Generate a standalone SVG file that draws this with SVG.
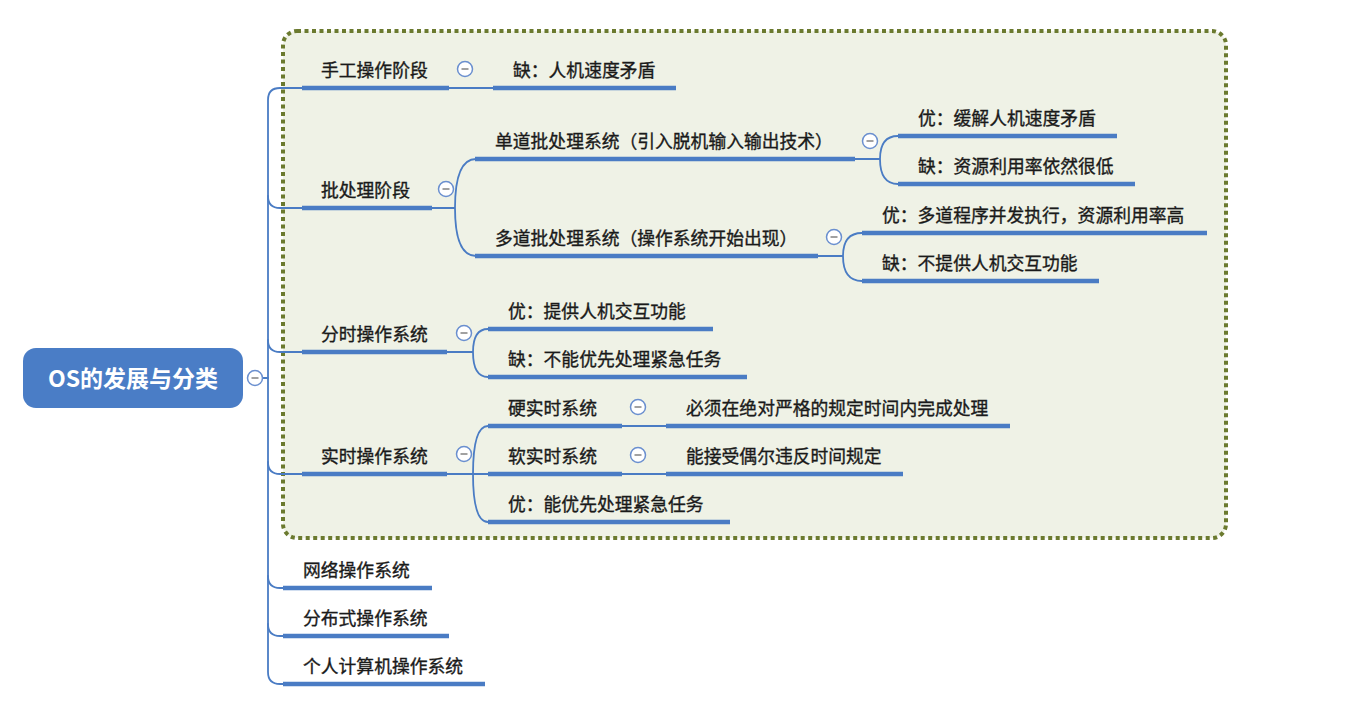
<svg xmlns="http://www.w3.org/2000/svg" width="1368" height="720" viewBox="0 0 1368 720">
<defs>
<style>
.bg{fill:#ffffff}
.box{fill:#eff2e6;stroke:#6b7a2f;stroke-width:4;stroke-dasharray:4 3.5}
.thin{fill:none;stroke:#4a7cc4;stroke-width:1.8;stroke-linecap:round}
.ul{fill:none;stroke:#4a7cc4;stroke-width:4.5;stroke-linecap:butt}
.t{font-family:"Noto Sans CJK SC","Noto Sans",sans-serif;font-size:17.8px;fill:#1a1a1a;stroke:#1a1a1a;stroke-width:0.35}
.root{fill:#4a7dc6}
.rt{font-family:"Noto Sans CJK SC","Noto Sans",sans-serif;font-size:23px;font-weight:bold;fill:#ffffff}
.cc{fill:#ffffff;stroke:#6a8fcf;stroke-width:1.5}
.cm{stroke:#8a8a8a;stroke-width:1.6}
</style>
</defs>
<rect class="bg" x="0" y="0" width="1368" height="720"/>
<rect class="box" x="283" y="31" width="943" height="507" rx="14"/>

<g id="connectors">
<path class="thin" d="M262,378 H268"/>
<path class="thin" d="M302,88 H280 Q268,88 268,100 V672 Q268,684 280,684 H284"/>
<path class="thin" d="M268,196 Q268,208 280,208 H302"/>
<path class="thin" d="M268,340 Q268,352 280,352 H302"/>
<path class="thin" d="M268,462 Q268,474 280,474 H302"/>
<path class="thin" d="M268,576 Q268,588 280,588 H284"/>
<path class="thin" d="M268,624 Q268,636 280,636 H284"/>
<path class="thin" d="M449,88 H493"/>
<path class="thin" d="M432,208 H455 M455,208 Q455,159 476,159 M455,208 Q455,256 476,256"/>
<path class="thin" d="M855,159 H880 M880,159 Q880,136 898,136 M880,159 Q880,184 898,184"/>
<path class="thin" d="M818,256 H843 M843,256 Q843,233 862,233 M843,256 Q843,281 862,281"/>
<path class="thin" d="M447,352 H473 M473,352 Q473,329 488,329 M473,352 Q473,377 488,377"/>
<path class="thin" d="M447,474 H488 M473,474 Q473,426 488,426 M473,474 Q473,522 488,522"/>
<path class="thin" d="M622,426 H666"/>
<path class="thin" d="M622,474 H666"/>
</g>

<g id="root">
<rect class="root" x="23" y="348" width="220" height="60" rx="13"/>
<text class="rt" x="133" y="387" text-anchor="middle">OS的发展与分类</text>
<circle class="cc" cx="255" cy="378" r="7.5"/><line class="cm" x1="251.5" y1="378" x2="258.5" y2="378"/>
</g>

<g id="n-shougong">
<line class="ul" x1="302" y1="88" x2="449" y2="88"/>
<text class="t" x="321" y="77">手工操作阶段</text>
<circle class="cc" cx="465" cy="69" r="7.5"/><line class="cm" x1="461.5" y1="69" x2="468.5" y2="69"/>
</g>
<g id="n-shougong-que">
<line class="ul" x1="493" y1="88" x2="676" y2="88"/>
<text class="t" x="513" y="77">缺：人机速度矛盾</text>
</g>

<g id="n-pichuli">
<line class="ul" x1="302" y1="208" x2="432" y2="208"/>
<text class="t" x="321" y="197">批处理阶段</text>
<circle class="cc" cx="446" cy="189" r="7.5"/><line class="cm" x1="442.5" y1="189" x2="449.5" y2="189"/>
</g>
<g id="n-dandao">
<line class="ul" x1="475" y1="159" x2="855" y2="159"/>
<text class="t" x="495" y="148">单道批处理系统（引入脱机输入输出技术）</text>
<circle class="cc" cx="870" cy="141" r="7.5"/><line class="cm" x1="866.5" y1="141" x2="873.5" y2="141"/>
</g>
<g id="n-dandao-you">
<line class="ul" x1="898" y1="136" x2="1117" y2="136"/>
<text class="t" x="918" y="125">优：缓解人机速度矛盾</text>
</g>
<g id="n-dandao-que">
<line class="ul" x1="898" y1="184" x2="1135" y2="184"/>
<text class="t" x="918" y="173">缺：资源利用率依然很低</text>
</g>
<g id="n-duodao">
<line class="ul" x1="475" y1="256" x2="818" y2="256"/>
<text class="t" x="495" y="245">多道批处理系统（操作系统开始出现）</text>
<circle class="cc" cx="834" cy="237" r="7.5"/><line class="cm" x1="830.5" y1="237" x2="837.5" y2="237"/>
</g>
<g id="n-duodao-you">
<line class="ul" x1="862" y1="233" x2="1207" y2="233"/>
<text class="t" x="882" y="222">优：多道程序并发执行，资源利用率高</text>
</g>
<g id="n-duodao-que">
<line class="ul" x1="862" y1="281" x2="1099" y2="281"/>
<text class="t" x="882" y="270">缺：不提供人机交互功能</text>
</g>

<g id="n-fenshi">
<line class="ul" x1="302" y1="352" x2="447" y2="352"/>
<text class="t" x="321" y="341">分时操作系统</text>
<circle class="cc" cx="464" cy="333" r="7.5"/><line class="cm" x1="460.5" y1="333" x2="467.5" y2="333"/>
</g>
<g id="n-fenshi-you">
<line class="ul" x1="488" y1="329" x2="713" y2="329"/>
<text class="t" x="508" y="318">优：提供人机交互功能</text>
</g>
<g id="n-fenshi-que">
<line class="ul" x1="488" y1="377" x2="747" y2="377"/>
<text class="t" x="508" y="366">缺：不能优先处理紧急任务</text>
</g>

<g id="n-shishi">
<line class="ul" x1="302" y1="474" x2="447" y2="474"/>
<text class="t" x="321" y="463">实时操作系统</text>
<circle class="cc" cx="464" cy="454" r="7.5"/><line class="cm" x1="460.5" y1="454" x2="467.5" y2="454"/>
</g>
<g id="n-ying">
<line class="ul" x1="488" y1="426" x2="622" y2="426"/>
<text class="t" x="508" y="415">硬实时系统</text>
<circle class="cc" cx="638" cy="407" r="7.5"/><line class="cm" x1="634.5" y1="407" x2="641.5" y2="407"/>
</g>
<g id="n-ying-c">
<line class="ul" x1="666" y1="426" x2="1010" y2="426"/>
<text class="t" x="686" y="415">必须在绝对严格的规定时间内完成处理</text>
</g>
<g id="n-ruan">
<line class="ul" x1="488" y1="474" x2="622" y2="474"/>
<text class="t" x="508" y="463">软实时系统</text>
<circle class="cc" cx="638" cy="455" r="7.5"/><line class="cm" x1="634.5" y1="455" x2="641.5" y2="455"/>
</g>
<g id="n-ruan-c">
<line class="ul" x1="666" y1="474" x2="903" y2="474"/>
<text class="t" x="686" y="463">能接受偶尔违反时间规定</text>
</g>
<g id="n-shishi-you">
<line class="ul" x1="488" y1="522" x2="730" y2="522"/>
<text class="t" x="508" y="511">优：能优先处理紧急任务</text>
</g>

<g id="n-wangluo">
<line class="ul" x1="283" y1="588" x2="432" y2="588"/>
<text class="t" x="303" y="577">网络操作系统</text>
</g>
<g id="n-fenbu">
<line class="ul" x1="283" y1="636" x2="449" y2="636"/>
<text class="t" x="303" y="625">分布式操作系统</text>
</g>
<g id="n-geren">
<line class="ul" x1="283" y1="684" x2="485" y2="684"/>
<text class="t" x="303" y="673">个人计算机操作系统</text>
</g>
</svg>
